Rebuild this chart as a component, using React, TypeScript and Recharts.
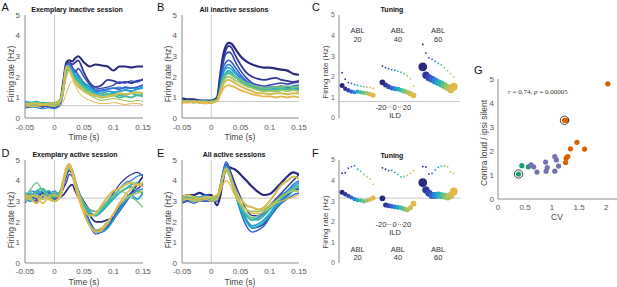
import React from 'react';
import { LineChart, Line, XAxis, YAxis, ReferenceLine, ScatterChart, Scatter } from 'recharts';

// time axis (s), shared by panels A, B, D, E
const TIME = [-0.05, -0.04, -0.03, -0.02, -0.01, 0, 0.01, 0.015, 0.02, 0.025, 0.03, 0.035, 0.04, 0.05, 0.06, 0.07, 0.08, 0.09, 0.1, 0.11, 0.12, 0.13, 0.14, 0.15];
const TIME_TICKS = [-0.05, 0, 0.05, 0.1, 0.15];
const RATE_TICKS = [0, 1, 2, 3, 4, 5];

// navy -> blue -> cyan -> green -> gold
const COLORS = ['#28287c', '#2d3597', '#3247b4', '#3461cf', '#2f7fe0', '#1f9cd6', '#17b1c0', '#3bbca1', '#6cc27f', '#a3c364', '#cfbd52', '#e6b747'];

// A: exemplary inactive session
const A_LINES = [
  [0.6, 0.65, 0.6, 0.55, 0.6, 0.6, 0.9, 1.8, 2.7, 2.8, 2.75, 2.9, 3.0, 2.7, 2.5, 2.6, 2.55, 2.5, 2.3, 2.5, 2.5, 2.45, 2.5, 2.5],
  [0.5, 0.55, 0.6, 0.6, 0.55, 0.5, 0.8, 1.7, 2.6, 2.7, 2.6, 2.7, 2.8, 2.2, 1.7, 1.5, 1.6, 1.85, 1.8, 1.7, 1.75, 1.7, 1.8, 1.85],
  [0.6, 0.6, 0.65, 0.6, 0.6, 0.55, 0.7, 1.5, 2.5, 2.7, 2.5, 2.2, 2.4, 2.0, 1.6, 1.4, 1.45, 1.5, 1.6, 1.75, 1.7, 1.8, 1.75, 1.9],
  [0.7, 0.65, 0.7, 0.65, 0.7, 0.6, 0.8, 1.6, 2.6, 2.6, 2.4, 2.3, 2.1, 1.7, 1.5, 1.3, 1.35, 1.4, 1.45, 1.4, 1.5, 1.45, 1.5, 1.6],
  [0.5, 0.55, 0.5, 0.45, 0.5, 0.45, 0.6, 1.2, 2.2, 2.5, 2.4, 2.0, 1.8, 1.6, 1.4, 1.35, 1.3, 1.4, 1.45, 1.5, 1.4, 1.45, 1.4, 1.45],
  [0.8, 0.75, 0.7, 0.75, 0.7, 0.65, 0.8, 1.5, 2.4, 2.5, 2.3, 2.1, 2.0, 1.7, 1.5, 1.25, 1.2, 1.3, 1.25, 1.3, 1.35, 1.3, 1.4, 1.5],
  [0.7, 0.75, 0.8, 0.7, 0.75, 0.7, 0.9, 1.6, 2.3, 2.4, 2.2, 2.0, 1.9, 1.6, 1.4, 1.2, 1.1, 1.15, 1.2, 1.1, 1.15, 1.2, 1.1, 1.2],
  [0.6, 0.65, 0.6, 0.7, 0.65, 0.6, 0.8, 1.4, 2.3, 2.4, 2.2, 1.9, 1.8, 1.5, 1.3, 1.1, 1.0, 1.05, 1.1, 1.0, 1.05, 1.0, 1.1, 1.05],
  [0.7, 0.7, 0.75, 0.7, 0.7, 0.75, 0.9, 1.5, 2.4, 2.3, 2.1, 1.8, 1.7, 1.4, 1.2, 1.05, 1.1, 1.2, 1.1, 1.15, 1.1, 1.2, 1.15, 1.1],
  [0.6, 0.55, 0.6, 0.65, 0.6, 0.55, 0.8, 1.3, 2.0, 2.3, 2.0, 1.7, 1.5, 1.3, 1.1, 0.95, 0.85, 0.9, 0.95, 0.9, 0.85, 0.8, 0.85, 0.8],
  [0.65, 0.7, 0.7, 0.65, 0.7, 0.7, 0.85, 1.5, 2.5, 2.4, 2.0, 1.8, 1.6, 1.3, 1.15, 1.1, 1.0, 1.05, 1.1, 1.2, 1.15, 1.2, 1.25, 1.2],
  [0.6, 0.6, 0.55, 0.6, 0.6, 0.6, 0.65, 0.8, 1.2, 1.6, 1.8, 1.6, 1.3, 1.0, 0.85, 0.75, 0.7, 0.7, 0.75, 0.7, 0.65, 0.7, 0.7, 0.65],
];
const A_WIDTHS = [2, 1.8, 1.4, 1.7, 1.2, 1.8, 1.4, 2, 1.5, 1.2, 2.2, 1];

// B: all inactive sessions
const B_LINES = [
  [0.95, 0.9, 0.9, 0.85, 0.85, 0.85, 1.0, 2.0, 3.0, 3.5, 3.65, 3.6, 3.4, 3.0, 2.75, 2.6, 2.5, 2.45, 2.45, 2.4, 2.35, 2.3, 2.15, 2.1],
  [0.9, 0.85, 0.85, 0.85, 0.8, 0.8, 0.95, 1.8, 2.8, 3.3, 3.5, 3.4, 3.1, 2.6, 2.2, 2.0, 1.9, 1.85, 1.9, 1.95, 1.85, 1.8, 1.75, 1.8],
  [0.85, 0.85, 0.8, 0.8, 0.8, 0.8, 0.9, 1.6, 2.6, 3.1, 3.2, 3.1, 2.8, 2.3, 1.95, 1.7, 1.6, 1.55, 1.6, 1.65, 1.7, 1.65, 1.7, 1.75],
  [0.8, 0.8, 0.8, 0.8, 0.75, 0.75, 0.9, 1.5, 2.4, 2.7, 2.8, 2.7, 2.5, 2.1, 1.8, 1.6, 1.5, 1.45, 1.5, 1.5, 1.55, 1.5, 1.55, 1.6],
  [0.8, 0.85, 0.8, 0.8, 0.8, 0.75, 0.85, 1.4, 2.2, 2.5, 2.6, 2.5, 2.3, 2.0, 1.75, 1.55, 1.45, 1.4, 1.45, 1.4, 1.45, 1.5, 1.45, 1.5],
  [0.85, 0.8, 0.8, 0.8, 0.8, 0.8, 0.9, 1.4, 2.1, 2.4, 2.45, 2.35, 2.2, 1.9, 1.7, 1.5, 1.4, 1.35, 1.35, 1.4, 1.4, 1.45, 1.4, 1.45],
  [0.8, 0.8, 0.75, 0.8, 0.8, 0.75, 0.85, 1.3, 1.9, 2.2, 2.3, 2.2, 2.05, 1.8, 1.6, 1.5, 1.4, 1.35, 1.35, 1.3, 1.35, 1.4, 1.35, 1.4],
  [0.8, 0.8, 0.8, 0.75, 0.8, 0.8, 0.9, 1.3, 1.8, 2.1, 2.2, 2.1, 2.0, 1.8, 1.6, 1.5, 1.4, 1.4, 1.35, 1.4, 1.45, 1.4, 1.45, 1.5],
  [0.85, 0.8, 0.8, 0.8, 0.75, 0.8, 0.9, 1.3, 1.9, 2.1, 2.15, 2.1, 2.0, 1.85, 1.7, 1.6, 1.5, 1.45, 1.45, 1.5, 1.5, 1.55, 1.5, 1.55],
  [0.8, 0.8, 0.75, 0.8, 0.8, 0.75, 0.85, 1.2, 1.7, 1.95, 2.0, 1.95, 1.85, 1.7, 1.55, 1.45, 1.35, 1.3, 1.3, 1.3, 1.35, 1.3, 1.35, 1.3],
  [0.75, 0.8, 0.8, 0.75, 0.75, 0.75, 0.85, 1.2, 1.6, 1.8, 1.85, 1.8, 1.7, 1.55, 1.4, 1.3, 1.2, 1.2, 1.15, 1.2, 1.2, 1.15, 1.2, 1.2],
  [0.75, 0.75, 0.8, 0.75, 0.7, 0.75, 0.8, 1.1, 1.4, 1.55, 1.6, 1.55, 1.5, 1.35, 1.25, 1.15, 1.1, 1.05, 1.05, 1.0, 1.05, 1.0, 1.05, 1.0],
];
const B_WIDTHS = [2.2, 1.8, 1.6, 1.6, 1.6, 1.6, 1.6, 1.8, 1.8, 1.8, 2, 1.8];

// D: exemplary active session
const D_LINES = [
  [3.0, 3.2, 3.1, 3.4, 3.3, 3.0, 3.2, 3.3, 3.5, 3.7, 3.8, 3.5, 3.2, 2.8, 2.3, 2.0, 2.0, 2.1, 2.2, 2.6, 3.0, 3.4, 3.8, 4.2],
  [2.9, 3.3, 3.4, 3.2, 3.5, 3.2, 3.3, 3.6, 3.9, 4.3, 4.2, 3.8, 3.5, 3.0, 2.6, 2.5, 2.7, 3.0, 3.4, 3.8, 4.1, 4.3, 4.4, 4.2],
  [3.3, 3.1, 3.0, 3.3, 3.4, 3.1, 3.3, 3.7, 4.2, 4.5, 4.3, 3.9, 3.5, 2.7, 2.0, 1.6, 1.6, 1.8, 2.2, 2.7, 3.1, 3.4, 3.6, 3.8],
  [3.4, 3.3, 3.5, 3.3, 3.2, 3.4, 3.4, 3.9, 4.4, 4.6, 4.4, 3.9, 3.4, 2.5, 1.8, 1.4, 1.5, 1.7, 2.1, 2.5, 2.9, 3.3, 3.5, 3.6],
  [3.2, 3.5, 3.4, 3.1, 3.3, 3.5, 3.2, 3.8, 4.3, 4.6, 4.5, 4.0, 3.6, 2.9, 2.5, 2.3, 2.5, 2.8, 3.2, 3.6, 3.9, 4.0, 4.2, 4.3],
  [3.1, 3.0, 3.3, 3.5, 3.2, 3.0, 3.3, 3.8, 4.4, 4.7, 4.5, 4.0, 3.5, 2.6, 1.9, 1.5, 1.5, 1.7, 2.1, 2.6, 3.0, 3.3, 3.1, 3.4],
  [3.3, 3.4, 3.2, 3.3, 3.5, 3.3, 3.4, 3.9, 4.4, 4.7, 4.4, 3.9, 3.4, 2.7, 2.4, 2.3, 2.5, 2.8, 3.1, 3.4, 3.6, 3.8, 3.9, 3.7],
  [3.4, 3.2, 3.5, 3.6, 3.3, 3.2, 3.5, 4.0, 4.5, 4.7, 4.5, 4.0, 3.5, 2.8, 2.4, 2.3, 2.6, 2.9, 3.2, 3.4, 3.6, 3.7, 3.5, 3.4],
  [3.2, 3.6, 3.9, 3.5, 3.3, 3.4, 3.4, 3.9, 4.4, 4.6, 4.4, 3.9, 3.5, 2.9, 2.6, 2.5, 2.7, 3.0, 3.3, 3.5, 3.4, 3.2, 3.0, 2.7],
  [3.0, 3.2, 3.3, 3.1, 3.2, 3.0, 3.3, 3.9, 4.4, 4.7, 4.5, 4.0, 3.4, 2.4, 1.8, 1.6, 1.7, 2.0, 2.4, 2.8, 3.1, 3.3, 3.4, 3.5],
  [3.3, 3.1, 2.9, 3.3, 3.1, 3.0, 3.3, 4.0, 4.6, 4.8, 4.5, 3.9, 3.4, 2.6, 2.3, 2.4, 2.8, 3.2, 3.5, 3.6, 3.8, 3.9, 3.8, 3.9],
  [3.1, 3.3, 3.2, 2.9, 3.2, 3.3, 3.2, 3.8, 4.5, 4.7, 4.3, 3.7, 3.2, 2.4, 1.8, 1.5, 1.6, 1.9, 2.4, 2.9, 3.3, 3.6, 3.8, 3.7],
];
const D_WIDTHS = [1.7, 1.2, 1.7, 1.4, 1.2, 1.7, 1.4, 2, 1.2, 1.7, 2.2, 1.7];

// E: all active sessions
const E_LINES = [
  [3.2, 3.3, 3.3, 3.4, 3.3, 3.3, 2.8, 3.2, 4.0, 4.6, 4.65, 4.6, 4.55, 4.3, 4.0, 3.7, 3.45, 3.3, 3.35, 3.6, 3.9, 4.2, 4.4, 4.3],
  [3.1, 3.0, 3.1, 3.2, 3.1, 3.2, 3.1, 3.6, 4.3, 4.7, 4.6, 4.3, 3.9, 3.2, 2.6, 2.3, 2.3, 2.5, 2.8, 3.1, 3.4, 3.7, 4.0, 4.3],
  [3.0, 3.0, 3.1, 3.1, 3.0, 3.1, 3.1, 3.7, 4.4, 4.8, 4.6, 4.2, 3.7, 2.8, 2.1, 1.7, 1.75, 1.9, 2.3, 2.7, 3.0, 3.3, 3.5, 3.6],
  [2.9, 3.0, 2.9, 3.0, 3.0, 3.0, 3.0, 3.6, 4.4, 4.9, 4.7, 4.1, 3.5, 2.5, 1.8, 1.5, 1.6, 1.8, 2.2, 2.6, 2.9, 3.1, 3.3, 3.4],
  [3.2, 3.1, 3.2, 3.2, 3.3, 3.2, 3.2, 3.7, 4.3, 4.7, 4.5, 4.1, 3.6, 2.8, 2.3, 2.1, 2.2, 2.4, 2.7, 3.0, 3.3, 3.5, 3.8, 4.0],
  [3.1, 3.1, 3.0, 3.1, 3.1, 3.2, 3.1, 3.6, 4.3, 4.7, 4.5, 4.0, 3.5, 2.7, 2.1, 1.8, 1.9, 2.1, 2.4, 2.8, 3.1, 3.4, 3.7, 3.9],
  [3.0, 3.1, 3.1, 3.0, 3.1, 3.0, 3.1, 3.5, 4.2, 4.6, 4.4, 3.9, 3.4, 2.6, 2.0, 1.7, 1.8, 2.0, 2.3, 2.7, 3.0, 3.2, 3.5, 3.7],
  [3.1, 3.2, 3.1, 3.1, 3.2, 3.1, 3.2, 3.6, 4.2, 4.6, 4.4, 4.0, 3.5, 2.8, 2.3, 2.1, 2.1, 2.3, 2.6, 2.9, 3.2, 3.4, 3.6, 3.8],
  [3.2, 3.1, 3.2, 3.2, 3.1, 3.2, 3.2, 3.6, 4.2, 4.5, 4.3, 3.9, 3.4, 2.8, 2.4, 2.2, 2.3, 2.5, 2.7, 3.0, 3.2, 3.4, 3.6, 3.7],
  [3.1, 3.1, 3.0, 3.1, 3.2, 3.1, 3.1, 3.5, 4.1, 4.5, 4.3, 3.9, 3.5, 2.9, 2.6, 2.5, 2.5, 2.6, 2.8, 3.0, 3.2, 3.4, 3.5, 3.5],
  [3.2, 3.3, 3.2, 3.1, 3.2, 3.2, 3.3, 3.6, 4.2, 4.6, 4.4, 4.0, 3.6, 3.1, 2.8, 2.7, 2.6, 2.7, 3.0, 3.4, 3.8, 4.0, 4.2, 4.1],
  [3.0, 3.1, 3.1, 3.0, 3.1, 3.0, 3.1, 3.4, 3.8, 4.0, 3.9, 3.6, 3.3, 2.9, 2.6, 2.4, 2.4, 2.5, 2.7, 2.9, 3.0, 3.1, 3.2, 3.3],
];
const E_WIDTHS = [2.2, 1.4, 1.6, 1.4, 1.6, 1.6, 1.4, 1.8, 1.6, 1.8, 2, 1.2];

// C / F tuning: ILD -20..20 (11 levels) for ABL 20, 40, 60
const C_BIG = [
  [1.58, 1.42, 1.35, 1.28, 1.25, 1.28, 1.25, 1.22, 1.2, 1.15, 1.1],
  [1.73, 1.6, 1.52, 1.45, 1.42, 1.4, 1.35, 1.3, 1.25, 1.18, 1.1],
  [2.48, 2.08, 1.95, 1.88, 1.8, 1.72, 1.65, 1.57, 1.48, 1.38, 1.52],
];
const C_SMALL = [
  [2.2, 1.88, 1.72, 1.68, 1.62, 1.58, 1.55, 1.52, 1.5, 1.48, 1.45],
  [2.52, 2.45, 2.4, 2.35, 2.32, 2.28, 2.22, 2.15, 2.05, 1.9, 1.55],
  [3.57, 3.15, 2.92, 2.85, 2.75, 2.65, 2.58, 2.45, 2.3, 2.15, 2.0],
];
const F_BIG = [
  [3.43, 3.34, 3.26, 3.18, 3.1, 3.05, 3.03, 3.0, 3.03, 3.08, 3.15],
  [3.14, 2.82, 2.78, 2.75, 2.72, 2.7, 2.68, 2.62, 2.58, 2.68, 2.88],
  [3.9, 3.55, 3.38, 3.28, 3.28, 3.3, 3.27, 3.25, 3.2, 3.28, 3.47],
];
const F_SMALL = [
  [4.36, 4.38, 4.6, 4.68, 4.72, 4.55, 4.45, 4.3, 4.18, 4.08, 3.82],
  [4.62, 4.55, 4.48, 4.5, 4.4, 4.3, 4.18, 4.2, 4.25, 4.35, 4.48],
  [4.68, 4.66, 4.32, 4.35, 4.52, 4.65, 4.7, 4.72, 4.68, 4.42, 4.36],
];
const DOT_RADIUS = [
  [2.5, 2.2, 2.2, 2.1, 2.1, 2.1, 2.1, 2.2, 2.2, 2.3, 2.5],
  [2.9, 2.5, 2.5, 2.4, 2.4, 2.4, 2.4, 2.5, 2.5, 2.6, 2.9],
  [4.4, 3.6, 3.5, 3.5, 3.5, 3.4, 3.4, 3.4, 3.5, 3.6, 3.9],
];
const ABL_LEVELS = ['20', '40', '60'];

// G: CV vs contra loud / ipsi silent
const GREEN_CV = [0.38, 0.44, 0.56];
const GREEN_RATIO = [1.04, 1.39, 1.34];
const PURPLE_CV = [0.61, 0.66, 0.72, 0.88, 0.89, 0.91, 1.05, 1.08, 1.05, 1.12];
const PURPLE_RATIO = [1.42, 1.34, 1.12, 1.54, 1.16, 1.31, 1.77, 1.63, 1.16, 1.37];
const ORANGE_CV = [1.23, 1.27, 1.25, 1.26, 1.29, 1.34, 1.46, 1.6, 2.03];
const ORANGE_RATIO = [3.28, 3.28, 1.52, 1.7, 1.77, 2.09, 2.36, 2.08, 4.8];
const CIRCLED_CV = [0.38, 1.23];
const CIRCLED_RATIO = [1.04, 3.28];

const AXIS = '#8a8a8a';
const TICK = { fontSize: 8, fill: '#555' };
const REF = '#c8c8c8';
const FONT = '"Liberation Sans", Arial, sans-serif';

const toRows = (lines: number[][]) =>
  TIME.map((t, i) => {
    const row: any = { t };
    lines.forEach((l, k) => (row['s' + k] = l[i]));
    return row;
  });

const dotColor = (i: number) => COLORS[Math.round((i * 11) / 10)];

const TimePanel = ({ lines, widths, base, left, top, height, marginTop, yWidth, marginRight, xGap }: any) => (
  <div style={{ position: 'absolute', left, top }}>
    <LineChart width={155} height={height} data={toRows(lines)} margin={{ top: marginTop, right: marginRight, left: 0, bottom: 0 }}>
      <XAxis dataKey="t" type="number" domain={[-0.05, 0.15]} ticks={TIME_TICKS} tickFormatter={(v: number) => String(v)}
        tick={TICK} tickLine={false} tickSize={2} tickMargin={xGap} axisLine={{ stroke: AXIS }} height={22} allowDataOverflow />
      <YAxis type="number" domain={[0, 5]} ticks={RATE_TICKS} tick={TICK} tickLine={false} tickSize={3} tickMargin={2}
        axisLine={{ stroke: AXIS }} width={yWidth} allowDataOverflow />
      <ReferenceLine x={0} stroke={REF} />
      <ReferenceLine segment={[{ x: 0, y: base }, { x: 0.15, y: base }]} stroke={REF} />
      {lines.map((_: number[], k: number) => (
        <Line key={k} dataKey={'s' + k} type="monotone" stroke={COLORS[k]} strokeWidth={widths[k]} dot={false} isAnimationActive={false} />
      ))}
    </LineChart>
  </div>
);

const tuningPoints = (groups: number[][], big: boolean) =>
  groups.flatMap((vals, g) =>
    vals.map((y, i) => ({ x: g * 13 + i, y, r: big ? DOT_RADIUS[g][i] : 0.9, c: dotColor(i) }))
  );

const dotShape = (p: any) => <circle cx={p.cx} cy={p.cy} r={p.payload.r} fill={p.payload.c} />;

const TuningPanel = ({ big, small, base, left, top, height, marginTop, marginBottom }: any) => (
  <div style={{ position: 'absolute', left, top }}>
    <ScatterChart width={155} height={height} margin={{ top: marginTop, right: 5, left: 0, bottom: marginBottom }}>
      <XAxis dataKey="x" type="number" domain={[-1, 38]} hide />
      <YAxis dataKey="y" type="number" domain={[0, 5]} ticks={RATE_TICKS} tick={{ fontSize: 7, fill: '#666' }} tickLine={false}
        tickSize={2} tickMargin={2} axisLine={{ stroke: AXIS }} width={29} />
      <ReferenceLine y={base} stroke={REF} />
      <Scatter data={tuningPoints(small, false)} shape={dotShape} isAnimationActive={false} />
      <Scatter data={tuningPoints(big, true)} shape={dotShape} isAnimationActive={false} />
    </ScatterChart>
  </div>
);

const pairs = (xs: number[], ys: number[]) => xs.map((x, i) => ({ x, y: ys[i] }));

const T = ({ x, y, s, size = 8.5, weight = 400, fill = '#444', rotate = false, anchor = 'middle' }: any) => (
  <text x={x} y={y} fontSize={size} fontWeight={weight} fill={fill} textAnchor={anchor} dominantBaseline="central"
    transform={rotate ? `rotate(-90 ${x} ${y})` : undefined}>{s}</text>
);

export default function App() {
  return (
    <div style={{ position: 'fixed', left: 0, top: 0, width: 617, height: 287, background: '#fff', overflow: 'hidden', fontFamily: FONT }}>
      <TimePanel lines={A_LINES} widths={A_WIDTHS} base={0.6} left={0} top={0} height={140} marginTop={15} yWidth={25} marginRight={12} xGap={4} />
      <TimePanel lines={B_LINES} widths={B_WIDTHS} base={0.8} left={155} top={0} height={140} marginTop={15} yWidth={27} marginRight={11} xGap={4} />
      <TimePanel lines={D_LINES} widths={D_WIDTHS} base={3.15} left={0} top={140} height={145} marginTop={20} yWidth={25} marginRight={12} xGap={3} />
      <TimePanel lines={E_LINES} widths={E_WIDTHS} base={3.15} left={155} top={140} height={145} marginTop={20} yWidth={27} marginRight={11} xGap={3} />
      <TuningPanel big={C_BIG} small={C_SMALL} base={0.8} left={310} top={0} height={140} marginTop={15} marginBottom={22} />
      <TuningPanel big={F_BIG} small={F_SMALL} base={3.15} left={310} top={140} height={145} marginTop={20} marginBottom={22} />

      <div style={{ position: 'absolute', left: 470, top: 50 }}>
        <ScatterChart width={147} height={169} margin={{ top: 29, right: 0, left: 0, bottom: 0 }}>
          <XAxis dataKey="x" type="number" domain={[0, 2.2]} ticks={[0, 0.5, 1, 1.5, 2]} tick={TICK} tickLine={false}
            tickSize={2} tickMargin={3} axisLine={{ stroke: AXIS }} height={20} />
          <YAxis dataKey="y" type="number" domain={[0, 5]} ticks={RATE_TICKS} tick={TICK} tickLine={false} tickSize={2}
            tickMargin={2} axisLine={{ stroke: AXIS }} width={28} />
          <Scatter data={pairs(GREEN_CV, GREEN_RATIO)} isAnimationActive={false}
            shape={(p: any) => <circle cx={p.cx} cy={p.cy} r={2.6} fill="#1b9e77" />} />
          <Scatter data={pairs(PURPLE_CV, PURPLE_RATIO)} isAnimationActive={false}
            shape={(p: any) => <circle cx={p.cx} cy={p.cy} r={2.6} fill="#7570b3" />} />
          <Scatter data={pairs(ORANGE_CV, ORANGE_RATIO)} isAnimationActive={false}
            shape={(p: any) => <circle cx={p.cx} cy={p.cy} r={2.6} fill="#d95f02" />} />
          <Scatter data={pairs(CIRCLED_CV, CIRCLED_RATIO)} isAnimationActive={false}
            shape={(p: any) => <circle cx={p.cx} cy={p.cy} r={4.2} fill="none" stroke="#333" strokeWidth={0.9} />} />
        </ScatterChart>
      </div>

      <svg width={617} height={287} style={{ position: 'absolute', left: 0, top: 0, pointerEvents: 'none' }}>
        {/* panel letters */}
        <T x={1.5} y={6.5} s="A" size={11} fill="#111" anchor="start" />
        <T x={157} y={6.5} s="B" size={11} fill="#111" anchor="start" />
        <T x={312} y={6.5} s="C" size={11} fill="#111" anchor="start" />
        <T x={1.5} y={153} s="D" size={11} fill="#111" anchor="start" />
        <T x={157} y={153} s="E" size={11} fill="#111" anchor="start" />
        <T x={312} y={153} s="F" size={11} fill="#111" anchor="start" />
        <T x={474} y={69.5} s="G" size={11} fill="#111" anchor="start" />
        {/* titles */}
        <T x={77} y={9} s="Exemplary inactive session" size={7} weight={700} fill="#111" />
        <T x={234} y={9} s="All inactive sessions" size={7} weight={700} fill="#111" />
        <T x={392} y={9} s="Tuning" size={7} weight={700} fill="#111" />
        <T x={75} y={154} s="Exemplary active session" size={7} weight={700} fill="#111" />
        <T x={234} y={154} s="All active sessions" size={7} weight={700} fill="#111" />
        <T x={392} y={155} s="Tuning" size={7} weight={700} fill="#111" />
        {/* axis labels */}
        <T x={11} y={74} s="Firing rate (Hz)" rotate />
        <T x={168} y={74} s="Firing rate (Hz)" rotate />
        <T x={325} y={72} s="Firing rate (Hz)" rotate size={8} />
        <T x={11} y={220} s="Firing rate (Hz)" rotate />
        <T x={168} y={220} s="Firing rate (Hz)" rotate />
        <T x={325} y={222} s="Firing rate (Hz)" rotate size={8} />
        <T x={484} y={143} s="Contra loud / ipsi silent" rotate />
        <T x={84} y={137} s="Time (s)" />
        <T x={240} y={137} s="Time (s)" />
        <T x={84} y={281.5} s="Time (s)" />
        <T x={240} y={281.5} s="Time (s)" />
        <T x={557} y={216.5} s="CV" />
        {/* ABL labels */}
        {ABL_LEVELS.map((lvl, g) => (
          <g key={lvl}>
            <T x={357.6 + g * 40.3} y={30.5} s="ABL" size={7.5} fill="#333" />
            <T x={357.6 + g * 40.3} y={39} s={lvl} size={7.5} fill="#333" />
            <T x={357.6 + g * 40.3} y={249.5} s="ABL" size={7.5} fill="#333" />
            <T x={357.6 + g * 40.3} y={257.5} s={lvl} size={7.5} fill="#333" />
          </g>
        ))}
        {/* ILD scale */}
        {[107, 224.5].map((y) => (
          <g key={y}>
            <T x={381} y={y} s="-20" size={7.5} fill="#333" />
            <line x1={386.5} x2={391.5} y1={y} y2={y} stroke="#555" strokeWidth={0.8} strokeDasharray="0.8 1.2" />
            <T x={394.5} y={y} s="0" size={7.5} fill="#333" />
            <line x1={398} x2={403} y1={y} y2={y} stroke="#555" strokeWidth={0.8} strokeDasharray="0.8 1.2" />
            <T x={407} y={y} s="20" size={7.5} fill="#333" />
            <T x={395} y={y + 8} s="ILD" size={7.5} fill="#333" />
          </g>
        ))}
        <text x={508} y={94} fontSize={7} fill="#333" fontFamily='"Liberation Serif", serif'>
          <tspan fontStyle="italic">r</tspan> = 0.74, <tspan fontStyle="italic">p</tspan> = 0.00005
        </text>
      </svg>
    </div>
  );
}
